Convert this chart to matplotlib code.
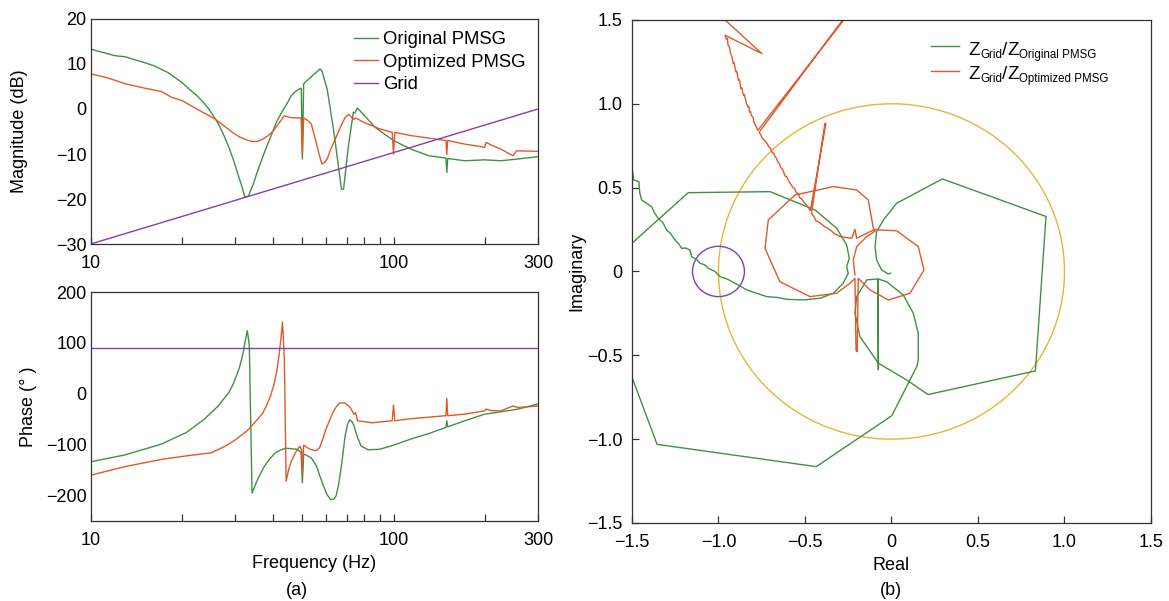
import numpy as np
import matplotlib
matplotlib.use('Agg')
import matplotlib.pyplot as plt
from matplotlib.patches import Circle
from matplotlib.lines import Line2D
from matplotlib.transforms import IdentityTransform
from matplotlib.ticker import FixedLocator, NullFormatter

plt.rcParams['font.family'] = ['Liberation Sans', 'DejaVu Sans']
plt.rcParams['axes.unicode_minus'] = True

GREEN = '#3f9142'
ORANGE = '#e0592a'
PURPLE = '#8040b0'
YELLOW = '#e8b43a'
SPINE = '#333333'

# --- magnitude (dB) ---
f_mag_orig = [10, 12, 13, 14.9, 16.2, 18, 20, 21, 22.4, 23.3, 24.3, 25.3, 26.4, 27.5, 28.6,
              29.6, 30.6, 31.5, 32.3, 33.2, 34.5, 35.6, 37.5, 39.6, 41, 43, 44.5, 46, 47.3,
              48.6, 49.6, 50, 50.5, 50.9, 52, 54.8, 57.2, 58, 60.4, 63.7, 67.3, 68.4, 71.1,
              73.7, 74.5, 76, 80.3, 87, 100, 114, 131, 149, 150, 151, 172, 200, 226, 258, 300]
mag_orig = [13.3, 11.85, 11.6, 10.4, 9.6, 8.1, 5.9, 4.6, 3.0, 1.8, 0.4, -1.3, -3.3, -5.8, -8.5,
            -11.3, -14.4, -17.0, -19.6, -19.3, -16.5, -13.7, -9.6, -5.6, -3.0, -0.4, 1.2, 3.0, 3.8,
            4.4, 4.6, -11.1, 5.5, 5.9, 6.4, 7.8, 8.9, 8.5, 4.4, -5.6, -17.8, -17.8, -7.8,
            -0.7, -0.9, 0.2, -1.5, -4.1, -7.0, -8.9, -10.4, -10.9, -14.1, -11.0, -11.5, -11.3, -11.5, -11.1, -10.6]

f_mag_opt = [10, 11.4, 13, 14.9, 17.1, 18.5, 20, 22.4, 25.7, 27.5, 29.4, 31, 32.8, 34, 35.6,
             37, 38.6, 40, 41.3, 42.5, 43.6, 45.5, 49.5, 50, 50.5, 52, 53.5, 54.5, 55.7, 57,
             58, 59, 60.4, 62, 64.6, 67, 69.2, 71, 74, 75, 80, 90, 99, 100, 101, 114, 149, 150,
             151, 172, 200, 202, 210, 226, 248, 255, 300]
mag_opt = [7.8, 6.9, 5.6, 4.7, 3.9, 2.6, 1.9, 0, -2.2, -3.7, -5.2, -6.2, -6.9, -7.2, -7.2,
           -6.7, -5.9, -4.9, -3.7, -2.5, -1.5, -1.9, -2.0, -10, -2.0, -2.5, -3.3, -5.3, -7.8, -10.5,
           -12.2, -12.0, -11.1, -9.0, -6.3, -3.8, -1.9, -1.2, -2.3, -2.0, -3.0, -4.4, -5.2, -10, -5.2,
           -5.9, -7.0, -10.1, -7.0, -7.8, -8.5, -7.4, -8.0, -8.9, -10.4, -9.3, -9.4]

f_grid = [10, 300]
mag_grid = [-30, 0]
ph_grid = [90, 90]

# --- phase (deg) ---
f_ph_orig = [10, 13, 17.1, 20.7, 23.7, 25, 26.4, 27.5, 28.6, 29.5, 30.3, 31, 31.5, 32, 32.3,
             32.9, 33.4, 34.1, 34.8, 35.6, 36.5, 37.5, 39, 40.7, 42.5, 44.2, 48, 49.5, 50, 50.5,
             53.5, 55.7, 57, 58.8, 60.3, 62, 63.5, 64.6, 65.8, 67.3, 69.2, 70.5, 71.7, 73, 74, 76,
             78.2, 82.5, 90, 100, 114, 131, 149, 150, 151, 172, 200, 226, 258, 300]
ph_orig = [-133.6, -120, -99, -76, -50, -37, -23.7, -10, 2.6, 18, 35.5, 52, 68, 85, 101,
           124, 95, -195, -182, -168, -155, -142, -128, -116, -110, -107, -109, -115, -175, -118,
           -126, -142, -160, -182, -198, -208, -207, -201, -180, -142, -83, -60, -51, -55, -63, -85,
           -103, -110, -109, -101, -89, -78, -66, -53, -65, -53, -40, -35.5, -30, -20]

f_ph_opt = [10, 13, 17.1, 20.7, 25, 27.8, 30.3, 32.8, 35.6, 37, 38, 39.2, 40.2, 41.2, 42, 42.5,
            43, 43.6, 44.2, 45, 46, 47.5, 49, 49.7, 50, 50.5, 53, 55.5, 57, 58.3, 59.8, 61.5, 63,
            64.8, 66.4, 69, 72, 74, 75, 76, 85, 99, 100, 101, 114, 149, 150, 151, 172, 200, 202,
            210, 226, 248, 258, 300]
ph_opt = [-160, -143, -129, -122, -116, -103, -89, -73, -50, -38, -24, -5, 16, 45, 82, 110,
          141, 68, -172, -150, -132, -115, -103, -110, -155, -101, -109, -112, -106, -90, -70, -52, -37,
          -25, -18, -18, -27, -40, -37, -53, -57, -53, -22, -53, -49, -43, -9, -43, -40, -33.5, -30,
          -33, -33.5, -24, -27, -24]

# --- Nyquist curves (real, imag) ---
nyq_orig_re1 = [-1.52, -1.496, -1.49, -1.46, -1.455, -1.444, -1.42, -1.386, -1.37, -1.348, -1.32,
                -1.30, -1.28, -1.251, -1.23, -1.213, -1.19, -1.165, -1.155, -1.13, -1.107, -1.08,
                -1.059, -1.02, -0.991, -0.95, -0.905, -0.87, -0.837, -0.78, -0.721, -0.66, -0.606,
                -0.51, -0.413, -0.336, -0.279, -0.25, -0.259, -0.244, -0.259, -0.317, -0.442,
                -0.702, -1.175, -1.52]
nyq_orig_im1 = [0.62, 0.595, 0.546, 0.535, 0.47, 0.426, 0.41, 0.386, 0.35, 0.317, 0.29,
                0.247, 0.23, 0.188, 0.165, 0.138, 0.14, 0.128, 0.088, 0.075, 0.049, 0.04,
                0.019, 0.0, -0.031, -0.045, -0.07, -0.09, -0.11, -0.13, -0.15, -0.155, -0.166,
                -0.17, -0.16, -0.13, -0.07, -0.011, 0.029, 0.079, 0.158, 0.258, 0.367,
                0.476, 0.47, 0.15]

nyq_orig_re2 = [-1.53, -1.501, -1.355, -0.435, 0.002, 0.148, 0.155, 0.155, 0.126, 0.068, -0.028,
                -0.076, -0.076, -0.08, -0.143, -0.201, -0.211, -0.182, -0.076, 0.088, 0.211,
                0.832, 0.893, 0.294, 0.03, -0.047, -0.086, -0.095, -0.086, -0.057, -0.018, -0.005]
nyq_orig_im2 = [-0.55, -0.627, -1.031, -1.164, -0.86, -0.563, -0.528, -0.369, -0.249, -0.14, -0.061,
                -0.045, -0.587, -0.045, -0.05, -0.15, -0.249, -0.389, -0.547, -0.647, -0.734,
                -0.593, 0.328, 0.552, 0.407, 0.307, 0.237, 0.148, 0.069, 0.009, -0.015, -0.01]

nyq_opt_re = [-0.975, -0.962, -0.749, -0.962, -0.955, -0.948, -0.945, -0.94, -0.935, -0.93, -0.925,
              -0.92, -0.915, -0.91, -0.905, -0.90, -0.895, -0.89, -0.884, -0.88, -0.875, -0.87,
              -0.865, -0.86, -0.855, -0.85, -0.845, -0.84, -0.839, -0.83, -0.825, -0.82, -0.815,
              -0.81, -0.80, -0.794, -0.785, -0.772, -0.20, -0.21, -0.765, -0.755, -0.75, -0.74,
              -0.727, -0.72, -0.71, -0.70, -0.69, -0.68, -0.675, -0.665, -0.66, -0.65, -0.64,
              -0.63, -0.614, -0.605, -0.595, -0.585, -0.57, -0.56, -0.55, -0.54, -0.53, -0.52,
              -0.515, -0.502, -0.49, -0.469, -0.379, -0.385, -0.462, -0.455, -0.45, -0.44,
              -0.435, -0.425, -0.42, -0.413, -0.40, -0.39, -0.375, -0.355, -0.345, -0.33, -0.315,
              -0.298, -0.23, -0.211, -0.201, -0.143, -0.095, -0.066, 0.03, 0.155, 0.188, 0.107,
              -0.018, -0.124, -0.192, -0.198, -0.205, -0.211, -0.24, -0.317, -0.471, -0.645,
              -0.731, -0.712, -0.558, -0.336, -0.201, -0.134, -0.105, -0.095, -0.143, -0.201,
              -0.221, -0.211]
nyq_opt_im = [1.55, 1.5, 1.299, 1.409, 1.385, 1.39, 1.35, 1.345, 1.33, 1.30, 1.29,
              1.27, 1.24, 1.245, 1.22, 1.19, 1.195, 1.17, 1.139, 1.145, 1.12, 1.09,
              1.095, 1.07, 1.05, 1.055, 1.03, 1.015, 1.002, 0.98, 0.985, 0.95, 0.955,
              0.93, 0.92, 0.888, 0.87, 0.842, 1.60, 1.60, 0.83, 0.815, 0.80, 0.79,
              0.773, 0.765, 0.745, 0.735, 0.71, 0.705, 0.69, 0.675, 0.66, 0.645, 0.62,
              0.61, 0.568, 0.565, 0.54, 0.525, 0.50, 0.495, 0.47, 0.465, 0.44, 0.435,
              0.425, 0.408, 0.395, 0.363, 0.883, 0.883, 0.35, 0.335, 0.33, 0.31,
              0.30, 0.298, 0.295, 0.287, 0.28, 0.27, 0.262, 0.247, 0.24, 0.225, 0.218,
              0.208, 0.198, 0.251, 0.198, 0.228, 0.251, 0.247, 0.243, 0.148, 0.009, -0.13,
              -0.17, -0.11, -0.041, -0.478, -0.47, -0.041, -0.07, -0.13, -0.15, -0.061,
              0.138, 0.307, 0.456, 0.506, 0.486, 0.426, 0.258, 0.24, 0.208, 0.148,
              0.069, -0.02]

unit_center, unit_radius = (0, 0), 1.0
crit_center, crit_radius = (-1, 0), 0.15

W, H = 1169, 601
fig = plt.figure(figsize=(W / 100, H / 100), dpi=100)
ax_mag = fig.add_axes([0.0776, 0.594, 0.3826, 0.3744])
ax_ph = fig.add_axes([0.0776, 0.1331, 0.3826, 0.381])
ax_ny = fig.add_axes([0.5406, 0.1298, 0.444, 0.837])

lw = 1.0
ax_mag.plot(f_mag_orig, mag_orig, color=GREEN, lw=lw, label='Original PMSG')
ax_mag.plot(f_mag_opt, mag_opt, color=ORANGE, lw=lw, label='Optimized PMSG')
ax_mag.plot(f_grid, mag_grid, color=PURPLE, lw=lw, label='Grid')
ax_mag.set_ylim(-30, 20)
ax_mag.set_yticks([-30, -20, -10, 0, 10, 20])
ax_mag.legend(loc='upper right', bbox_to_anchor=(1.0, 1.0), frameon=False, fontsize=13.3,
              handlelength=1.3, handletextpad=0.3, labelspacing=0.3, borderaxespad=0.25)

ax_ph.plot(f_ph_orig, ph_orig, color=GREEN, lw=lw)
ax_ph.plot(f_ph_opt, ph_opt, color=ORANGE, lw=lw)
ax_ph.plot(f_grid, ph_grid, color=PURPLE, lw=lw)
ax_ph.set_ylim(-250, 200)
ax_ph.set_yticks([-200, -100, 0, 100, 200])

for ax in (ax_mag, ax_ph):
    ax.set_xscale('log')
    ax.set_xlim(10, 300)
    ax.xaxis.set_major_locator(FixedLocator([10, 100, 300]))
    ax.xaxis.set_minor_locator(FixedLocator([20, 30, 40, 50, 60, 70, 80, 90, 200]))
    ax.xaxis.set_minor_formatter(NullFormatter())
    ax.set_xticklabels(['10', '100', '300'])
    ax.tick_params(axis='x', which='both', direction='in', length=5, width=0.9,
                   color=SPINE, labelsize=13, pad=8)
    ax.tick_params(axis='y', which='both', length=0, labelsize=13, pad=3)
    for s in ax.spines.values():
        s.set_color(SPINE)
        s.set_linewidth(0.9)

ax_mag.set_ylabel('Magnitude (dB)', fontsize=13)
ax_mag.yaxis.set_label_coords(-0.141, 0.5)
ax_ph.set_ylabel('Phase (° )', fontsize=13)
ax_ph.yaxis.set_label_coords(-0.121, 0.5)
ax_ph.set_xlabel('Frequency (Hz)', fontsize=13)
ax_ph.xaxis.set_label_coords(0.5, -0.148)

# Nyquist
ax_ny.add_patch(Circle(unit_center, unit_radius, fill=False, color=YELLOW, lw=lw))
ax_ny.add_patch(Circle(crit_center, crit_radius, fill=False, color=PURPLE, lw=lw))
ax_ny.plot(nyq_orig_re1, nyq_orig_im1, color=GREEN, lw=lw)
ax_ny.plot(nyq_orig_re2, nyq_orig_im2, color=GREEN, lw=lw)
ax_ny.plot(nyq_opt_re, nyq_opt_im, color=ORANGE, lw=lw)
ax_ny.set_xlim(-1.5, 1.5)
ax_ny.set_ylim(-1.5, 1.5)
ticks = [-1.5, -1.0, -0.5, 0, 0.5, 1.0, 1.5]
tick_labels = ['\u22121.5', '\u22121.0', '\u22120.5', '0', '0.5', '1.0', '1.5']
ax_ny.set_xticks(ticks)
ax_ny.set_xticklabels(tick_labels)
ax_ny.set_yticks(ticks)
ax_ny.set_yticklabels(tick_labels)
ax_ny.tick_params(axis='x', direction='in', length=5, width=0.9, color=SPINE,
                  labelsize=13, pad=8)
ax_ny.tick_params(axis='y', direction='in', length=5, width=0.9, color=SPINE,
                  labelsize=13, pad=7)
for s in ax_ny.spines.values():
    s.set_color(SPINE)
    s.set_linewidth(0.9)
ax_ny.set_xlabel('Real', fontsize=13)
ax_ny.xaxis.set_label_coords(0.5, -0.0676)
ax_ny.set_ylabel('Imaginary', fontsize=13)
ax_ny.yaxis.set_label_coords(-0.0906, 0.5)

# legend with Z_Grid/Z_xxx labels (large Z, small subscripts)
handles = [Line2D([], [], color=GREEN, lw=lw), Line2D([], [], color=ORANGE, lw=lw)]
leg = ax_ny.legend(handles, ['\u2007', '\u2007'], loc='upper left', bbox_to_anchor=(0.544, 0.993),
                   frameon=False, fontsize=13, handlelength=1.6, handletextpad=0.5,
                   labelspacing=0.4)
rich_labels = [('Grid', 'Original PMSG'), ('Grid', 'Optimized PMSG')]
fig.canvas.draw()
renderer = fig.canvas.get_renderer()
big, small = 13.5, 8.3
for t, (sub1, sub2) in zip(leg.get_texts(), rich_labels):
    bb = t.get_window_extent(renderer)
    x = bb.x0
    base = (bb.y0 + bb.y1) / 2 - 6.5
    for txt, size, dy in [('Z', big, 0), (sub1, small, -3), ('/', big, 0), ('Z', big, 0), (sub2, small, -3)]:
        tt = fig.text(x, base + dy, txt, fontsize=size, va='baseline', ha='left',
                      transform=IdentityTransform())
        x += tt.get_window_extent(renderer).width

fig.text(0.254, 0.018, '(a)', ha='center', va='center', fontsize=13)
fig.text(0.762, 0.018, '(b)', ha='center', va='center', fontsize=13)

fig.savefig('out.png', dpi=100)
